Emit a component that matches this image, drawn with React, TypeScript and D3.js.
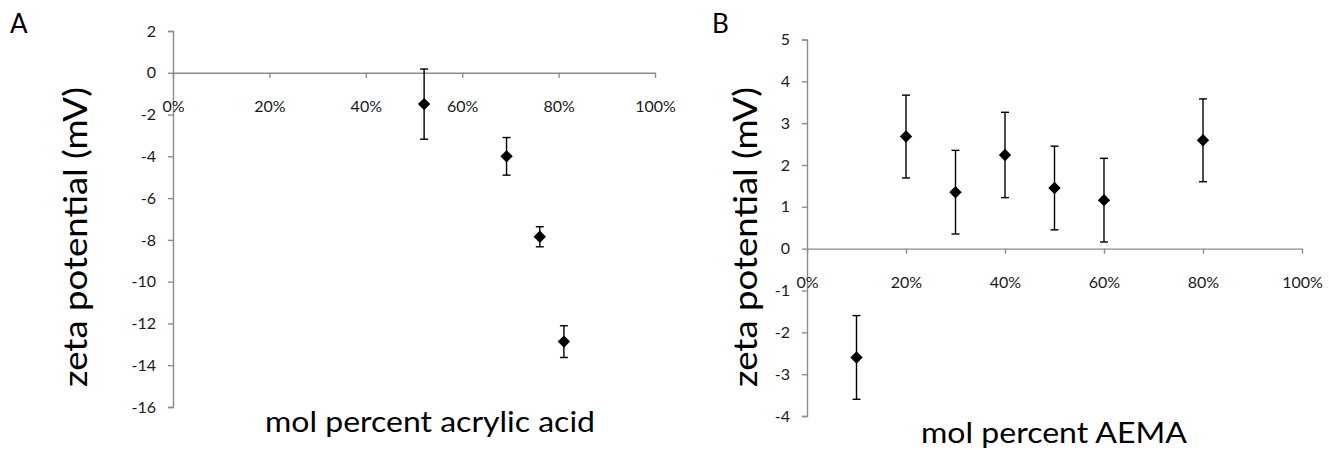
import React, { useEffect, useRef } from "react";
import * as d3 from "d3";

// Panel A: acrylic acid
const aX = [0.521, 0.692, 0.761, 0.811];
const aY = [-1.5, -4.0, -7.85, -12.87];
const aErr = [1.68, 0.9, 0.48, 0.76];
const aYTicks = [2, 0, -2, -4, -6, -8, -10, -12, -14, -16];

// Panel B: AEMA
const bX = [0.1, 0.2, 0.3, 0.4, 0.5, 0.6, 0.8];
const bY = [-2.6, 2.68, 1.35, 2.24, 1.45, 1.16, 2.59];
const bErr = [1.0, 0.99, 1.0, 1.02, 1.0, 1.0, 0.99];
const bYTicks = [5, 4, 3, 2, 1, 0, -1, -2, -3, -4];

const xTicks = [0, 0.2, 0.4, 0.6, 0.8, 1.0];

const FONT = "Lato, 'Open Sans', sans-serif";

type PanelProps = {
  xs: number[];
  ys: number[];
  errs: number[];
  yTicks: number[];
  xRange: [number, number];
  yDomain: [number, number];
  yRange: [number, number];
  letter: string;
  letterX: number;
  yTitleX: number;
  yTitleY: number;
  xTitle: string;
  xTitleX: number;
  xTitleY: number;
  xTitleLen: number;
};

function Panel(p: PanelProps) {
  const xRef = useRef<SVGGElement>(null);
  const yRef = useRef<SVGGElement>(null);
  const x = d3.scaleLinear().domain([0, 1]).range(p.xRange);
  const y = d3.scaleLinear().domain(p.yDomain).range(p.yRange);

  useEffect(() => {
    const fmtPct = d3.format(".0%");
    const xAxis = d3
      .axisBottom(x)
      .tickValues(xTicks)
      .tickSize(5)
      .tickSizeOuter(0)
      .tickFormat((d) => fmtPct(d as number));
    const gx = d3.select(xRef.current!);
    gx.call(xAxis as any);
    gx.select(".domain").attr("stroke", "#8c8c8c").attr("stroke-width", 1.4);
    gx.selectAll(".tick line").attr("stroke", "#8c8c8c").attr("stroke-width", 1.4);
    gx.selectAll(".tick text")
      .attr("y", 28)
      .attr("font-size", 16)
      .attr("font-family", FONT)
      .attr("fill", "#1a1a1a");

    const yAxis = d3
      .axisLeft(y)
      .tickValues(p.yTicks)
      .tickSize(5)
      .tickSizeOuter(5)
      .tickPadding(12)
      .tickFormat((d) => String(d));
    const gy = d3.select(yRef.current!);
    gy.call(yAxis as any);
    gy.select(".domain").attr("stroke", "#8c8c8c").attr("stroke-width", 1.4);
    gy.selectAll(".tick line").attr("stroke", "#8c8c8c").attr("stroke-width", 1.4);
    gy.selectAll(".tick text")
      .attr("font-size", 16)
      .attr("font-family", FONT)
      .attr("fill", "#1a1a1a");
  });

  const diamond = d3.symbol().type(d3.symbolDiamond2).size(98)();

  return (
    <g>
      <text x={p.letterX} y={33} fontFamily={FONT} fontSize={26} fill="#000">
        {p.letter}
      </text>
      <g ref={yRef} transform={`translate(${p.xRange[0]},0)`} />
      <g ref={xRef} transform={`translate(0,${y(0)})`} />
      <text
        transform={`translate(${p.yTitleX},${p.yTitleY}) rotate(-90)`}
        textAnchor="middle"
        dominantBaseline="central"
        fontFamily={FONT}
        fontSize={32}
        textLength={300}
        lengthAdjust="spacingAndGlyphs"
        fill="#000"
      >
        zeta potential (mV)
      </text>
      <text
        x={p.xTitleX}
        y={p.xTitleY}
        textAnchor="middle"
        fontFamily={FONT}
        fontSize={29}
        textLength={p.xTitleLen}
        lengthAdjust="spacingAndGlyphs"
        fill="#000"
      >
        {p.xTitle}
      </text>
      {p.xs.map((xv, i) => {
        const cx = x(xv);
        const top = y(p.ys[i] + p.errs[i]);
        const bot = y(p.ys[i] - p.errs[i]);
        return (
          <g key={i}>
            <line x1={cx} x2={cx} y1={top} y2={bot} stroke="#000" strokeWidth={1.4} />
            <line x1={cx - 4} x2={cx + 4} y1={top} y2={top} stroke="#000" strokeWidth={1.4} />
            <line x1={cx - 4} x2={cx + 4} y1={bot} y2={bot} stroke="#000" strokeWidth={1.4} />
            <path d={diamond!} transform={`translate(${cx},${y(p.ys[i])})`} fill="#000" />
          </g>
        );
      })}
    </g>
  );
}

export default function App() {
  return (
    <svg
      width={1329}
      height={450}
      style={{ position: "absolute", left: 0, top: 0, background: "#fff" }}
    >
      <rect width={1329} height={450} fill="#fff" />
      <Panel
        xs={aX}
        ys={aY}
        errs={aErr}
        yTicks={aYTicks}
        xRange={[173, 655]}
        yDomain={[2, -16]}
        yRange={[31, 407]}
        letter="A"
        letterX={10}
        yTitleX={74}
        yTitleY={237}
        xTitle="mol percent acrylic acid"
        xTitleX={430}
        xTitleY={432}
        xTitleLen={330}
      />
      <Panel
        xs={bX}
        ys={bY}
        errs={bErr}
        yTicks={bYTicks}
        xRange={[807, 1302]}
        yDomain={[5, -4]}
        yRange={[39.5, 416]}
        letter="B"
        letterX={712}
        yTitleX={744}
        yTitleY={237}
        xTitle="mol percent AEMA"
        xTitleX={1054}
        xTitleY={443}
        xTitleLen={266}
      />
    </svg>
  );
}
